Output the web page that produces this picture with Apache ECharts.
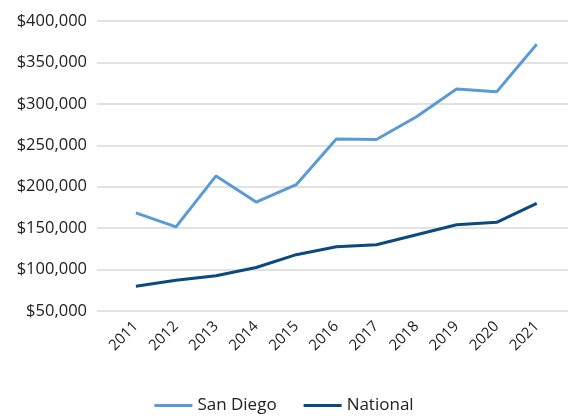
<!DOCTYPE html>
<html>
<head>
<meta charset="utf-8">
<script src="https://cdn.jsdelivr.net/npm/echarts@6/dist/echarts.min.js"></script>
<style>
  html, body { margin: 0; padding: 0; background: #fff; }
  #chart { width: 568px; height: 418px; }
</style>
</head>
<body>
<div id="chart"></div>
<script>
// Median home values by year
const years = [2011, 2012, 2013, 2014, 2015, 2016, 2017, 2018, 2019, 2020, 2021];
const sanDiego = [168500, 151500, 213000, 181500, 202500, 257500, 257000, 284500, 318000, 314500, 372000];
const national = [80000, 87000, 92500, 102500, 118000, 127500, 130000, 142000, 154000, 157000, 180000];
const yTicks = [50000, 100000, 150000, 200000, 250000, 300000, 350000, 400000];

const FONT = 'Open Sans';
const pairs = (vals) => years.map((y, i) => [y, vals[i]]);
const money = (v) => '$' + v.toLocaleString('en-US');

const chart = echarts.init(document.getElementById('chart'), null, { renderer: 'canvas' });
chart.setOption({
  animation: false,
  backgroundColor: '#ffffff',
  grid: { left: 97, right: 0, top: 21, bottom: 107 },
  xAxis: {
    type: 'value',
    min: 2010.03,
    max: 2021.78,
    splitLine: { show: false },
    axisLine: { show: false },
    axisTick: { show: false },
    axisLabel: {
      customValues: years,
      rotate: 45,
      fontFamily: FONT,
      fontSize: 15,
      color: '#222',
      margin: 13,
      formatter: (v) => String(v)
    }
  },
  yAxis: {
    type: 'value',
    min: yTicks[0],
    max: yTicks[yTicks.length - 1],
    interval: 50000,
    axisLine: { show: false },
    axisTick: { show: false },
    splitLine: { lineStyle: { color: '#d9d9d9', width: 1.5 } },
    axisLabel: {
      fontFamily: FONT,
      fontSize: 16.5,
      color: '#222',
      margin: 10,
      formatter: money
    }
  },
  legend: {
    bottom: -1,
    left: 'center',
    icon: 'rect',
    itemWidth: 38,
    itemHeight: 3,
    itemGap: 27,
    textStyle: { fontFamily: FONT, fontSize: 17, color: '#222' },
    data: ['San Diego', 'National']
  },
  series: [
    {
      name: 'San Diego',
      type: 'line',
      data: pairs(sanDiego),
      symbol: 'none',
      color: '#5b9bd5',
      lineStyle: { width: 3, color: '#5b9bd5' }
    },
    {
      name: 'National',
      type: 'line',
      data: pairs(national),
      symbol: 'none',
      color: '#0a4a7e',
      lineStyle: { width: 3, color: '#0a4a7e' }
    }
  ]
});
</script>
</body>
</html>
